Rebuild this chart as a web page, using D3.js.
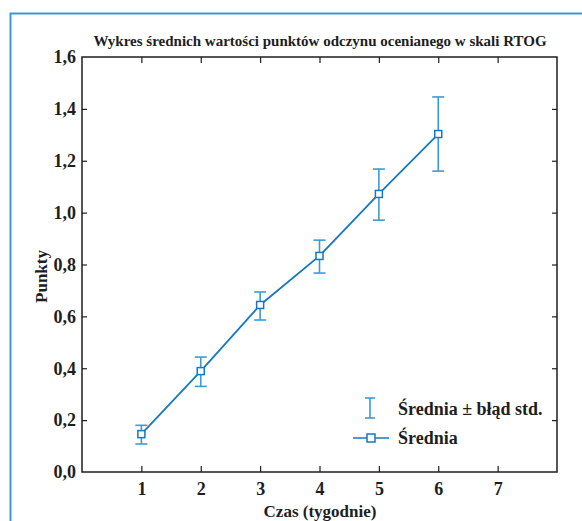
<!DOCTYPE html>
<html>
<head>
<meta charset="utf-8">
<script src="https://cdn.jsdelivr.net/npm/d3@7"></script>
<style>
  body { margin: 0; background: #fff; }
  svg { display: block; }
</style>
</head>
<body>
<div id="chart-container"></div>
<script>
// Data
const weeks = [1, 2, 3, 4, 5, 6];
const means = [0.146, 0.389, 0.644, 0.833, 1.072, 1.303];
const lows = [0.108, 0.330, 0.586, 0.767, 0.971, 1.160];
const highs = [0.180, 0.443, 0.694, 0.894, 1.168, 1.446];
const xTicks = [1, 2, 3, 4, 5, 6, 7];
const yTicks = [0, 0.2, 0.4, 0.6, 0.8, 1.0, 1.2, 1.4, 1.6];

const data = weeks.map((w, i) => ({ week: w, mean: means[i], low: lows[i], high: highs[i] }));

const W = 582, H = 521;
const margin = { top: 57, right: 25, bottom: 49, left: 82 };
const width = W - margin.left - margin.right;
const height = H - margin.top - margin.bottom;

const lineColor = "#1479c0";
const barColor = "#3d9ad6";
const font = "'Liberation Serif', 'Times New Roman', 'DejaVu Serif', serif";
const ink = "#1e1e1e";

const svgRoot = d3.select("#chart-container")
  .append("svg")
  .attr("width", W)
  .attr("height", H)
  .style("font-family", font);

// Blue outer frame (top and left edges)
svgRoot.append("path")
  .attr("d", `M10.5,${H} L10.5,13.5 L${W},13.5`)
  .attr("fill", "none")
  .attr("stroke", "#3f97d3")
  .attr("stroke-width", 2);

const svg = svgRoot.append("g")
  .attr("transform", `translate(${margin.left},${margin.top})`);

// Scales
const x = d3.scaleLinear().domain([0, 8]).range([0, width]);
const y = d3.scaleLinear().domain([0, 1.6]).range([height, 0]);

const fmt = d => d3.format(".1f")(d).replace(".", ",");

// Axes with inward ticks on all four sides
const styleAxis = g => {
  g.attr("font-family", null).attr("font-size", null);
  g.select(".domain").remove();
  g.selectAll(".tick line").attr("stroke", ink).attr("stroke-width", 1.2);
  g.selectAll(".tick text")
    .style("font-family", font)
    .style("font-size", "18px")
    .style("font-weight", "bold")
    .attr("fill", ink);
};

svg.append("g")
  .attr("transform", `translate(0,${height})`)
  .call(d3.axisBottom(x).tickValues(xTicks).tickFormat(d3.format("d")).tickSizeInner(-6).tickSizeOuter(0).tickPadding(10))
  .call(styleAxis);

svg.append("g")
  .call(d3.axisTop(x).tickValues(xTicks).tickSizeInner(-6).tickSizeOuter(0).tickFormat(""))
  .call(styleAxis);

svg.append("g")
  .call(d3.axisLeft(y).tickValues(yTicks).tickFormat(fmt).tickSizeInner(-5).tickSizeOuter(0).tickPadding(6))
  .call(styleAxis)
  .selectAll(".tick")
  .filter(d => d === 0 || d === 1.6)
  .select("line").remove();

svg.append("g")
  .attr("transform", `translate(${width},0)`)
  .call(d3.axisRight(y).tickValues(yTicks.slice(1, -1)).tickSizeInner(-5).tickSizeOuter(0).tickFormat(""))
  .call(styleAxis);

// Plot frame
svg.append("rect")
  .attr("x", 0).attr("y", 0)
  .attr("width", width).attr("height", height)
  .attr("fill", "none")
  .attr("stroke", ink)
  .attr("stroke-width", 1.5);

// Error bars
const eb = svg.append("g").attr("stroke", barColor).attr("stroke-width", 1.6);
eb.selectAll(".ebv").data(data).join("line")
  .attr("x1", d => x(d.week)).attr("x2", d => x(d.week))
  .attr("y1", d => y(d.low)).attr("y2", d => y(d.high));
eb.selectAll(".ebt").data(data).join("line")
  .attr("x1", d => x(d.week) - 6).attr("x2", d => x(d.week) + 6)
  .attr("y1", d => y(d.high)).attr("y2", d => y(d.high));
eb.selectAll(".ebb").data(data).join("line")
  .attr("x1", d => x(d.week) - 6).attr("x2", d => x(d.week) + 6)
  .attr("y1", d => y(d.low)).attr("y2", d => y(d.low));

// Mean line
const line = d3.line().x(d => x(d.week)).y(d => y(d.mean));
svg.append("path")
  .datum(data)
  .attr("fill", "none")
  .attr("stroke", lineColor)
  .attr("stroke-width", 1.8)
  .attr("d", line);

// Square markers
svg.selectAll(".marker").data(data).join("rect")
  .attr("x", d => x(d.week) - 3.5)
  .attr("y", d => y(d.mean) - 3.5)
  .attr("width", 7).attr("height", 7)
  .attr("fill", "white")
  .attr("stroke", lineColor)
  .attr("stroke-width", 1.5);

// Legend
const lg = svgRoot.append("g");
lg.append("line").attr("x1", 370).attr("x2", 370).attr("y1", 398).attr("y2", 418)
  .attr("stroke", barColor).attr("stroke-width", 1.6);
lg.append("line").attr("x1", 365).attr("x2", 375).attr("y1", 398).attr("y2", 398)
  .attr("stroke", barColor).attr("stroke-width", 1.6);
lg.append("line").attr("x1", 365).attr("x2", 375).attr("y1", 418).attr("y2", 418)
  .attr("stroke", barColor).attr("stroke-width", 1.6);
lg.append("line").attr("x1", 353).attr("x2", 389).attr("y1", 438).attr("y2", 438)
  .attr("stroke", lineColor).attr("stroke-width", 1.6);
lg.append("rect").attr("x", 367).attr("y", 434).attr("width", 8).attr("height", 8)
  .attr("fill", "white").attr("stroke", lineColor).attr("stroke-width", 1.5);
lg.append("text").attr("x", 398).attr("y", 415)
  .style("font-size", "18px").style("font-weight", "bold").attr("fill", ink)
  .text("Średnia ± błąd std.");
lg.append("text").attr("x", 398).attr("y", 444)
  .style("font-size", "18px").style("font-weight", "bold").attr("fill", ink)
  .text("Średnia");

// Title
svgRoot.append("text")
  .attr("x", 320)
  .attr("y", 46)
  .attr("text-anchor", "middle")
  .style("font-size", "15px")
  .style("font-weight", "bold")
  .attr("fill", ink)
  .text("Wykres średnich wartości punktów odczynu ocenianego w skali RTOG");

// Axis titles
svgRoot.append("text")
  .attr("transform", `translate(47,${margin.top + height / 2 + 12}) rotate(-90)`)
  .attr("text-anchor", "middle")
  .style("font-size", "17px")
  .style("font-weight", "bold")
  .attr("fill", ink)
  .text("Punkty");

svgRoot.append("text")
  .attr("x", 320)
  .attr("y", 517)
  .attr("text-anchor", "middle")
  .style("font-size", "17px")
  .style("font-weight", "bold")
  .attr("fill", ink)
  .text("Czas (tygodnie)");
</script>
</body>
</html>
